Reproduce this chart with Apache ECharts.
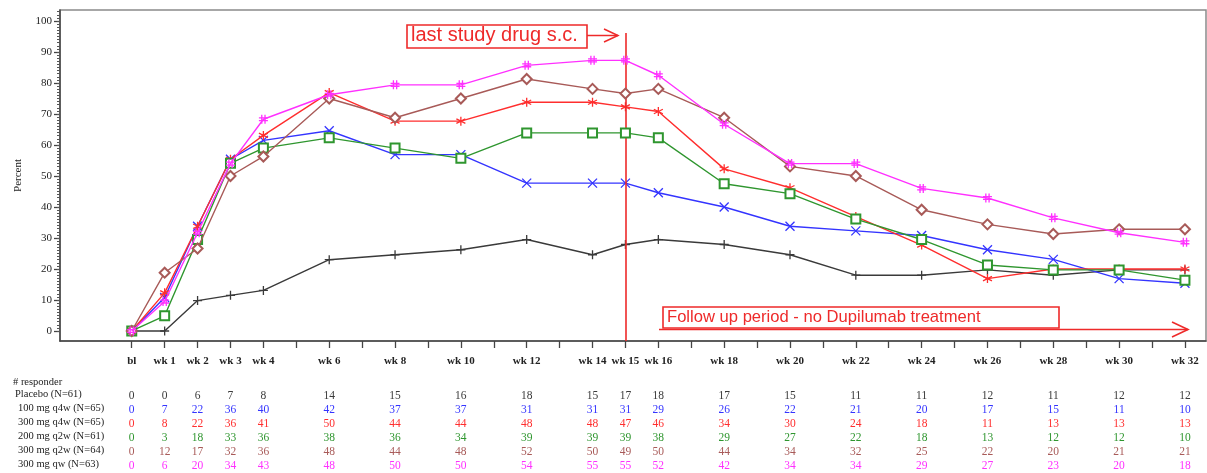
<!DOCTYPE html>
<html>
<head>
<meta charset="utf-8">
<script src="https://cdn.jsdelivr.net/npm/echarts@6/dist/echarts.min.js"></script>
<style>
  html, body { margin: 0; padding: 0; background: #fff; }
  #chart { width: 1207px; height: 473px; }
</style>
</head>
<body>
<div id="chart"></div>
<script>
// 访视周（bl = 0）
const weeks = [0, 1, 2, 3, 4, 6, 8, 10, 12, 14, 15, 16, 18, 20, 22, 24, 26, 28, 30, 32];
const weekLabels = ['bl', 'wk 1', 'wk 2', 'wk 3', 'wk 4', 'wk 6', 'wk 8', 'wk 10', 'wk 12', 'wk 14',
                    'wk 15', 'wk 16', 'wk 18', 'wk 20', 'wk 22', 'wk 24', 'wk 26', 'wk 28', 'wk 30', 'wk 32'];

// 各组百分比
const placeboPct = [0, 0, 9.8, 11.5, 13.1, 23.0, 24.6, 26.2, 29.5, 24.6, 27.9, 29.5, 27.9, 24.6, 18.0, 18.0, 19.7, 18.0, 19.7, 19.7];
const q4w100Pct  = [0, 10.8, 33.8, 55.4, 61.5, 64.6, 56.9, 56.9, 47.7, 47.7, 47.7, 44.6, 40.0, 33.8, 32.3, 30.8, 26.2, 23.1, 16.9, 15.4];
const q4w300Pct  = [0, 12.3, 33.8, 55.4, 63.1, 76.9, 67.7, 67.7, 73.8, 73.8, 72.3, 70.8, 52.3, 46.2, 36.9, 27.7, 16.9, 20.0, 20.0, 20.0];
const q2w200Pct  = [0, 4.9, 29.5, 54.1, 59.0, 62.3, 59.0, 55.7, 63.9, 63.9, 63.9, 62.3, 47.5, 44.3, 36.1, 29.5, 21.3, 19.7, 19.7, 16.4];
const q2w300Pct  = [0, 18.8, 26.6, 50.0, 56.3, 75.0, 68.8, 75.0, 81.3, 78.1, 76.6, 78.1, 68.8, 53.1, 50.0, 39.1, 34.4, 31.3, 32.8, 32.8];
const qw300Pct   = [0, 9.5, 31.7, 54.0, 68.3, 76.2, 79.4, 79.4, 85.7, 87.3, 87.3, 82.5, 66.7, 54.0, 54.0, 46.0, 42.9, 36.5, 31.7, 28.6];

// # responder 表格
const placeboN = [0, 0, 6, 7, 8, 14, 15, 16, 18, 15, 17, 18, 17, 15, 11, 11, 12, 11, 12, 12];
const q4w100N  = [0, 7, 22, 36, 40, 42, 37, 37, 31, 31, 31, 29, 26, 22, 21, 20, 17, 15, 11, 10];
const q4w300N  = [0, 8, 22, 36, 41, 50, 44, 44, 48, 48, 47, 46, 34, 30, 24, 18, 11, 13, 13, 13];
const q2w200N  = [0, 3, 18, 33, 36, 38, 36, 34, 39, 39, 39, 38, 29, 27, 22, 18, 13, 12, 12, 10];
const q2w300N  = [0, 12, 17, 32, 36, 48, 44, 48, 52, 50, 49, 50, 44, 34, 32, 25, 22, 20, 21, 21];
const qw300N   = [0, 6, 20, 34, 43, 48, 50, 50, 54, 55, 55, 52, 42, 34, 34, 29, 27, 23, 20, 18];

const groupNames = ['Placebo (N=61)', '100 mg q4w (N=65)', '300 mg q4w (N=65)',
                    '200 mg q2w (N=61)', '300 mg q2w (N=64)', '300 mg qw (N=63)'];

// 样式
const colors = ['#3a3a3a', '#3434ff', '#ff2e2e', '#2f962f', '#a85a58', '#ff30ff'];
const symbols = [
    'path://M5 0 L5 10 M0 5 L10 5',
    'path://M0 0 L10 10 M0 10 L10 0',
    'path://M5 0 L5 10 M0.7 2.5 L9.3 7.5 M0.7 7.5 L9.3 2.5',
    'emptyRect',
    'emptyDiamond',
    'path://M3.2 0 L3.2 10 M6.8 0 L6.8 10 M0 3.4 L10 3.4 M0 6.6 L10 6.6'
];
const pctList = [placeboPct, q4w100Pct, q4w300Pct, q2w200Pct, q2w300Pct, qw300Pct];
const countList = [placeboN, q4w100N, q4w300N, q2w200N, q2w300N, qw300N];

const X_MIN = -2.18, X_MAX = 32.64;
const Y_MIN = -3.23, Y_MAX = 103.55;
const serif = 'Liberation Serif';
const red = '#ee2a2a';

const allWeekTicks = [];
for (let w = 0; w <= 32; w++) allWeekTicks.push(w);
const minorY = [];
for (let v = 0; v <= 103; v++) minorY.push(v);

const chart = echarts.init(document.getElementById('chart'), null, { renderer: 'canvas' });

// 主 x 轴
const xAxes = [{
    type: 'value', min: X_MIN, max: X_MAX, position: 'bottom',
    axisLine: { onZero: false, lineStyle: { color: '#444', width: 1.5 } },
    axisTick: { show: true, length: 7, customValues: allWeekTicks, lineStyle: { color: '#444', width: 1.3 } },
    axisLabel: {
        customValues: weeks, margin: 15,
        fontFamily: serif, fontSize: 11, fontWeight: 'bold', color: '#222',
        formatter: v => weekLabels[weeks.indexOf(Math.round(v))] || ''
    },
    splitLine: { show: false }
}];

// 每行 responder 数用一条隐藏的 x 轴显示
const rowY = [396, 410, 424, 438, 452, 466];
countList.forEach((counts, k) => {
    xAxes.push({
        type: 'value', min: X_MIN, max: X_MAX, position: 'bottom',
        offset: rowY[k] - 341 - 6,
        axisLine: { show: false, onZero: false }, axisTick: { show: false }, splitLine: { show: false },
        axisLabel: {
            customValues: weeks, margin: 0,
            fontFamily: serif, fontSize: 11.5, color: colors[k],
            formatter: v => {
                const i = weeks.indexOf(Math.round(v));
                return i < 0 ? '' : String(counts[i]);
            }
        }
    });
});

const series = pctList.map((pct, k) => ({
    name: groupNames[k],
    type: 'line',
    data: weeks.map((w, i) => [w, pct[i]]),
    symbol: symbols[k],
    symbolSize: k === 4 ? 10 : 9,
    lineStyle: { color: colors[k], width: 1.4 },
    itemStyle: { color: colors[k], borderColor: colors[k], borderWidth: 1.3 },
    z: 2 + k
}));

// wk 15 红色竖线
series[0].markLine = {
    silent: true, symbol: ['none', 'none'], label: { show: false },
    lineStyle: { color: red, width: 1.6, type: 'solid' },
    data: [[{ coord: [15, 96.1] }, { coord: [15, Y_MIN] }]]
};

const labelGraphics = [
    { type: 'text', left: 13, top: 377, style: { text: '# responder', font: '10.5px "Liberation Serif"', fill: '#222' } }
];
groupNames.forEach((n, k) => {
    labelGraphics.push({
        type: 'text', left: k === 0 ? 15 : 18, top: rowY[k] - 7,
        style: { text: n, font: '10.5px "Liberation Serif"', fill: '#222' }
    });
});

const option = {
    animation: false,
    backgroundColor: '#fff',
    grid: { left: 60, right: 1, top: 10, bottom: 132, show: true, borderColor: '#8a8a8a', borderWidth: 1.5 },
    xAxis: xAxes,
    yAxis: [{
        type: 'value', min: Y_MIN, max: Y_MAX,
        name: 'Percent', nameLocation: 'middle', nameGap: 36, nameRotate: 90,
        nameTextStyle: { fontFamily: serif, fontSize: 11, color: '#222' },
        axisLine: { show: true, onZero: false, lineStyle: { color: '#444', width: 1.5 } },
        axisTick: { show: true, length: 6, customValues: [0, 10, 20, 30, 40, 50, 60, 70, 80, 90, 100], lineStyle: { color: '#444', width: 1.3 } },
        axisLabel: { customValues: [0, 10, 20, 30, 40, 50, 60, 70, 80, 90, 100], margin: 8, fontFamily: serif, fontSize: 11, color: '#222' },
        splitLine: { show: false }
    }, {
        type: 'value', min: Y_MIN, max: Y_MAX, position: 'left',
        axisLine: { show: false, onZero: false },
        axisTick: { show: true, length: 3, customValues: minorY, lineStyle: { color: '#555', width: 1 } },
        axisLabel: { show: false },
        splitLine: { show: false }
    }],
    series: series,
    graphic: labelGraphics.concat([
        // last study drug s.c.
        { type: 'rect', shape: { x: 407, y: 25, width: 180, height: 23 }, style: { fill: 'none', stroke: red, lineWidth: 1.6 } },
        { type: 'text', left: 411, top: 25, style: { text: 'last study drug s.c.', font: '20px "Liberation Sans"', fill: red } },
        { type: 'line', shape: { x1: 587, y1: 35.5, x2: 618, y2: 35.5 }, style: { stroke: red, lineWidth: 1.5 } },
        { type: 'polyline', shape: { points: [[604, 29], [618, 35.5], [604, 42]] }, style: { fill: 'none', stroke: red, lineWidth: 1.5 } },
        // Follow up period
        { type: 'rect', shape: { x: 663, y: 307, width: 396, height: 21 }, style: { fill: 'none', stroke: red, lineWidth: 1.6 } },
        { type: 'text', left: 667, top: 308.5, style: { text: 'Follow up period - no Dupilumab treatment', font: '16.6px "Liberation Sans"', fill: red } },
        { type: 'line', shape: { x1: 659, y1: 329.5, x2: 1188, y2: 329.5 }, style: { stroke: red, lineWidth: 1.6 } },
        { type: 'polyline', shape: { points: [[1172, 322], [1188, 329.5], [1172, 337]] }, style: { fill: 'none', stroke: red, lineWidth: 1.6 } }
    ])
};

chart.setOption(option);
</script>
</body>
</html>
